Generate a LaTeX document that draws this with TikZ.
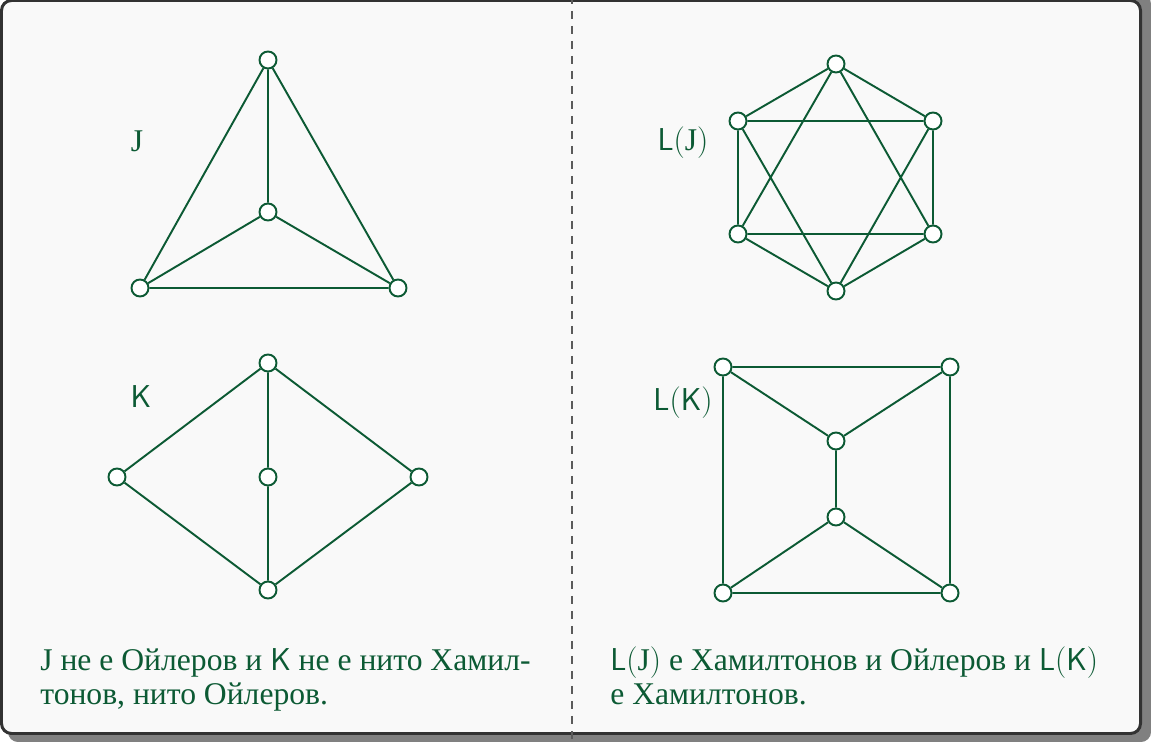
\RequirePackage{fix-cm}
\documentclass[tikz,border=0pt]{standalone}
\usepackage[no-math]{fontspec}
\setmainfont{Liberation Serif}
\usetikzlibrary{positioning}

\definecolor{graphgreen}{RGB}{12,90,52}
\definecolor{framegray}{RGB}{50,50,50}
\definecolor{shadowgray}{RGB}{128,128,128}
\definecolor{paper}{RGB}{249,249,249}

\newcommand{\gJ}{\mbox{J}}

\begin{document}
\begin{tikzpicture}[x=0.02cm, y=-0.02cm,
    vert/.style={circle, draw=graphgreen, fill=white, line width=1.1pt, minimum size=0.34cm, inner sep=0pt},
    edge/.style={draw=graphgreen, line width=1.1pt},
    glabel/.style={text=graphgreen, font=\fontsize{18}{20}\selectfont},
    remark/.style={text=graphgreen, align=left, inner sep=0pt, anchor=base west, font=\fontsize{18}{18.8}\selectfont}
]
\useasboundingbox (0,0) rectangle (1151,742);

% Frame
\fill[shadowgray, rounded corners=0.2cm] (8,-6) rectangle (1151,742);
\draw[framegray, fill=paper, line width=1.7pt, rounded corners=0.2cm] (1.5,0.5) rectangle (1140.5,733.5);
\draw[framegray!80, line width=0.6pt, dash pattern=on 0.16cm off 0.14cm] (572,-4) -- (572,742);

% J
\node[vert] (j1) at (268,60) {};
\node[vert] (j2) at (268,212) {};
\node[vert] (j3) at (140,288) {};
\node[vert] (j4) at (398,288) {};
\node[glabel] (jlab) at (137,141) {$\gJ$};

% K
\node[vert] (k1) at (268,363) {};
\node[vert] (k2) at (117,477) {};
\node[vert] (k3) at (268,477) {};
\node[vert] (k4) at (419,477) {};
\node[vert] (k5) at (268,590) {};
\node[glabel] (klab) at (141,397) {$\mathsf{K}$};

% L(J)
\node[vert] (a1) at (836,64) {};
\node[vert] (a2) at (738,121) {};
\node[vert] (a3) at (933,121) {};
\node[vert] (a4) at (738,234) {};
\node[vert] (a5) at (933,234) {};
\node[vert] (a6) at (836,291) {};
\node[glabel] (ljlab) at (683,143) {$\mathsf{L}(\gJ)$};

% L(K)
\node[vert] (b1) at (723,367) {};
\node[vert] (b2) at (950,367) {};
\node[vert] (b3) at (836,441) {};
\node[vert] (b4) at (836,517) {};
\node[vert] (b5) at (723,593) {};
\node[vert] (b6) at (950,593) {};
\node[glabel] (lklab) at (683,403) {$\mathsf{L}(\mathsf{K})$};

% Edges
\path[edge] (j1) -- (j2) (j1) -- (j3) (j1) -- (j4) (j2) -- (j3) (j2) -- (j4) (j3) -- (j4);
\path[edge] (k1) -- (k2) (k1) -- (k3) (k1) -- (k4) (k2) -- (k5) (k3) -- (k5) (k4) -- (k5);
\path[edge] (a1) -- (a2) (a1) -- (a3) (a1) -- (a4) (a1) -- (a5)
    (a2) -- (a3) (a2) -- (a4) (a2) -- (a6) (a3) -- (a5) (a3) -- (a6)
    (a4) -- (a5) (a4) -- (a6) (a5) -- (a6);
\path[edge] (b1) -- (b2) (b1) -- (b5) (b2) -- (b6) (b5) -- (b6)
    (b1) -- (b3) (b2) -- (b3) (b3) -- (b4) (b4) -- (b5) (b4) -- (b6);

% Remarks
\node[remark] (leftnote) at (40,704) {$\gJ$ не е Ойлеров и $\mathsf{K}$ не е нито Хамил-\\тонов, нито Ойлеров.};
\node[remark] (rightnote) at (610,704) {$\mathsf{L}(\gJ)$ е Хамилтонов и Ойлеров и $\mathsf{L}(\mathsf{K})$\\е Хамилтонов.};

\end{tikzpicture}
\end{document}
